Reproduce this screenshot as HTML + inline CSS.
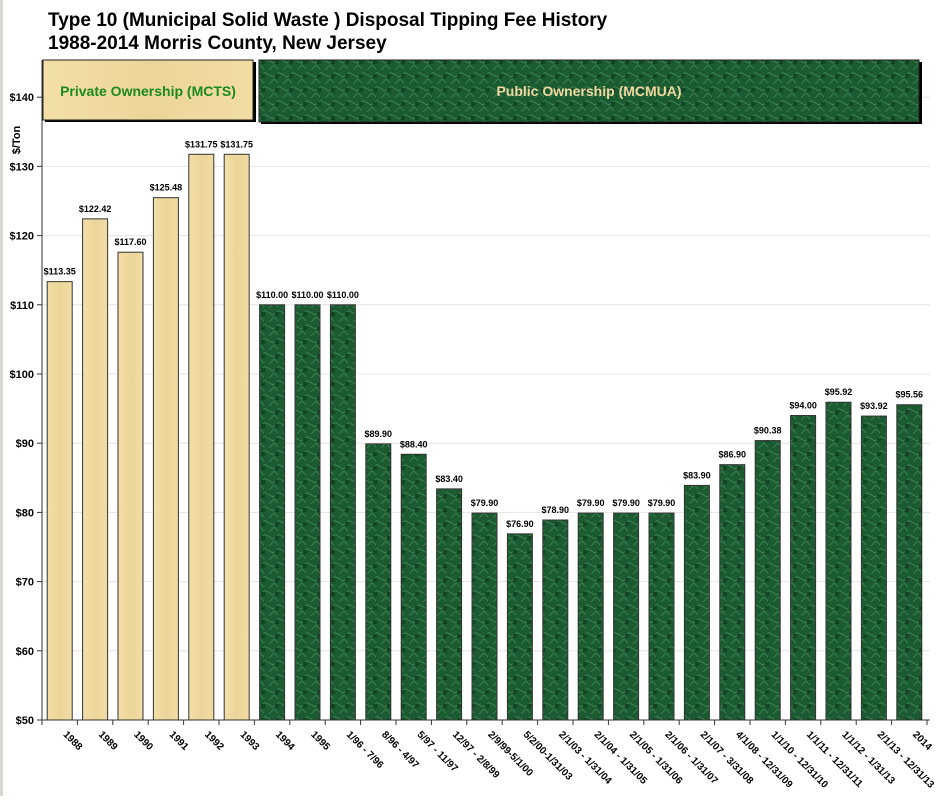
<!DOCTYPE html>
<html><head><meta charset="utf-8"><style>
body{margin:0;background:#fff;width:940px;height:796px;overflow:hidden;font-family:"Liberation Sans",Arial,sans-serif}
</style></head><body>
<svg width="940" height="796" xmlns="http://www.w3.org/2000/svg">
<defs>
<linearGradient id="tan" x1="0" y1="0" x2="1" y2="0"><stop offset="0" stop-color="#f3dfa8"/><stop offset="0.5" stop-color="#ecd59a"/><stop offset="1" stop-color="#f1dca4"/></linearGradient>
<pattern id="grn" width="14" height="14" patternUnits="userSpaceOnUse"><rect width="14" height="14" fill="#1c5a31"/><path d="M0 3L7 7L14 2M3 14L8 9L12 13" stroke="#3f8a55" stroke-width="0.8" fill="none"/><rect x="9" y="4" width="4" height="4" fill="#134424"/></pattern>
</defs>
<rect x="0" y="0" width="3" height="796" fill="#d8d8d0"/>
<text x="48" y="26" font-size="19" font-weight="bold" fill="#000">Type 10 (Municipal Solid Waste ) Disposal Tipping Fee History</text>
<text x="48" y="49" font-size="19" font-weight="bold" fill="#000">1988-2014 Morris County, New Jersey</text>
<g id="grid"></g>
<g id="bars"></g>
<g id="axes"></g>
<rect x="45" y="62" width="211" height="60" fill="#000"/>
<rect x="43" y="60" width="210" height="60" fill="url(#tan)" stroke="#222"/>
<text x="148" y="96" font-size="14" font-weight="bold" fill="#1a8a1a" text-anchor="middle">Private Ownership (MCTS)</text>
<rect x="261" y="62" width="661" height="62" fill="#000"/>
<rect x="259" y="60" width="660" height="62" fill="url(#grn)" stroke="#222"/>
<text x="589" y="96" font-size="14" font-weight="bold" fill="#f0d9a0" text-anchor="middle">Public Ownership (MCMUA)</text>
<text transform="translate(20,140) rotate(-90)" font-size="11" font-weight="bold" text-anchor="middle">$/Ton</text>
</svg>
<script>
const categories=["1988","1989","1990","1991","1992","1993","1994","1995","1/96 - 7/96","8/96 - 4/97","5/97 - 11/97","12/97 - 2/8/99","2/9/99-5/1/00","5/2/00-1/31/03","2/1/03 - 1/31/04","2/1/04 - 1/31/05","2/1/05 - 1/31/06","2/1/06 - 1/31/07","2/1/07 - 3/31/08","4/1/08 - 12/31/09","1/1/10 - 12/31/10","1/1/11 - 12/31/11","1/1/12 - 1/31/13","2/1/13 - 12/31/13","2014"];
const values=[113.35,122.42,117.60,125.48,131.75,131.75,110.00,110.00,110.00,89.90,88.40,83.40,79.90,76.90,78.90,79.90,79.90,79.90,83.90,86.90,90.38,94.00,95.92,93.92,95.56];
const privateCount=6;
const yTicks=[50,60,70,80,90,100,110,120,130,140];
const NS="http://www.w3.org/2000/svg";
const X0=42,CW=35.4,Y0=720,PX=6.92,BW=25;
const y=v=>Y0-(v-50)*PX;
const xc=i=>X0+CW*(i+0.5);
function mk(t,a,p){const e=document.createElementNS(NS,t);for(const k in a)e.setAttribute(k,a[k]);p.appendChild(e);return e;}
const grid=document.getElementById('grid'),bars=document.getElementById('bars'),axes=document.getElementById('axes');
yTicks.forEach(v=>{
 const g=mk('line',{x1:X0,x2:930,y1:y(v),y2:y(v),stroke:'#e4e4e4'},grid);
 
 
 const tk=mk('line',{x1:X0-5,x2:X0,y1:y(v),y2:y(v),stroke:'#333'},axes);
 
 
 const t=mk('text',{x:X0-8,y:y(v)+4,'font-size':11,'font-weight':'bold','text-anchor':'end'},axes);
 t.textContent='$'+v;
 
 
});
values.forEach((v,i)=>{
 const r=mk('rect',{x:xc(i)-BW/2,y:y(v),width:BW,height:Y0-y(v),fill:i<privateCount?'url(#tan)':'url(#grn)',stroke:'#333'},bars);
 
 
 const t=mk('text',{x:xc(i),y:y(v)-7,'font-size':9,'font-weight':'bold','text-anchor':'middle','font-family':'Liberation Sans Narrow, Liberation Sans, sans-serif'},bars);
 t.textContent='$'+v.toFixed(2);
 
 
 const c=mk('text',{transform:`translate(${xc(i)+3},${Y0+15}) rotate(45)`,'font-size':10,'font-weight':'bold'},axes);
 c.textContent=categories[i];
 
 
});
for(let i=0;i<=values.length;i++){
 const tk=mk('line',{x1:X0+CW*i,x2:X0+CW*i,y1:Y0,y2:Y0+5,stroke:'#333'},axes);
 
 
}
const ya=mk('line',{x1:X0,x2:X0,y1:60,y2:Y0,stroke:'#333'},axes);


const xa=mk('line',{x1:X0-5,x2:930,y1:Y0,y2:Y0,stroke:'#333'},axes);


</script>
</body></html>
